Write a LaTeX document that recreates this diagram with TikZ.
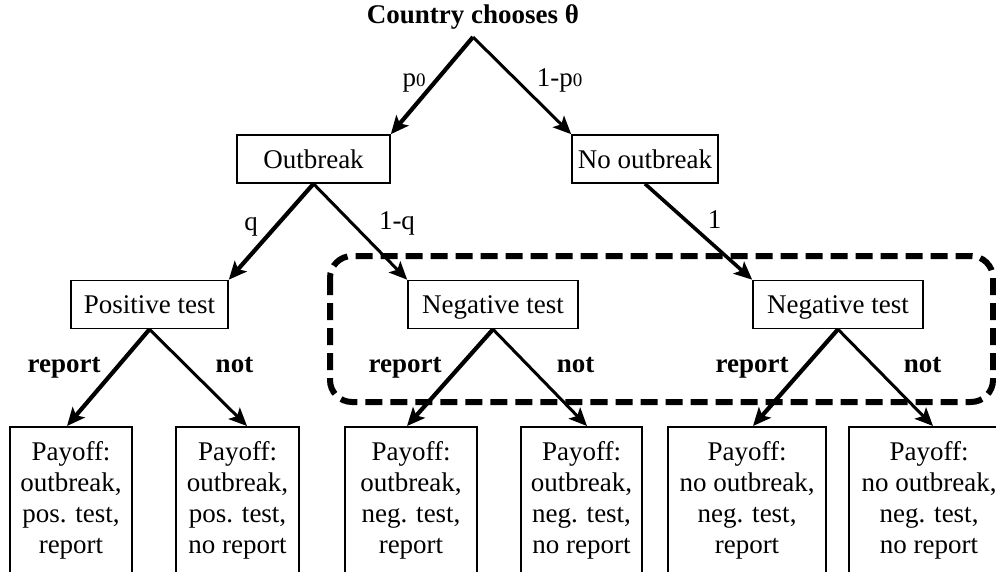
\documentclass[tikz,border=0pt]{standalone}
\usepackage{fontspec}
\setmainfont{Liberation Serif}
\usetikzlibrary{arrows.meta}
\begin{document}
\begin{tikzpicture}[x=1pt,y=-1pt,
  every node/.style={font=\fontsize{27}{31}\selectfont},
  box/.style={draw, line width=1.6pt, minimum height=48pt, text height=18pt, text depth=0pt, inner sep=0pt},
  payoff/.style={draw, line width=1.6pt, align=center, anchor=north, inner xsep=0pt, inner ysep=15pt},
  lab/.style={anchor=base, inner sep=0pt},
  blab/.style={anchor=base, inner sep=0pt, font=\fontsize{27}{31}\selectfont\bfseries},
  arrl/.style={-{Stealth[length=18pt,width=16pt,inset=4pt]}, line width=4.2pt},
  arrr/.style={-{Stealth[length=18pt,width=16pt,inset=4pt]}, line width=3pt},
  infoset/.style={line width=6pt, dash pattern=on 17pt off 8pt, rounded corners=22pt}]
\useasboundingbox (0,0) rectangle (996,571);
\clip (0,0) rectangle (996,571);

% root
\node[anchor=base, inner xsep=0pt, inner ysep=8pt, font=\fontsize{27}{31}\selectfont\bfseries] (root) at (473,23) {Country chooses θ};

% middle boxes
\node[box, minimum width=153pt] (outb) at (313.5,159) {Outbreak};
\node[box, minimum width=146pt] (noout) at (645,159) {No outbreak};
\node[box, minimum width=157pt] (pos) at (149.5,304.5) {Positive test};
\node[box, minimum width=170pt] (neg1) at (493,304.5) {Negative test};
\node[box, minimum width=170pt] (neg2) at (838,304.5) {Negative test};

% payoff boxes
\node[payoff, minimum width=122pt] (p1) at (71,426) {Payoff:\\outbreak,\\pos. test,\\report};
\node[payoff, minimum width=123pt] (p2) at (237.5,426) {Payoff:\\outbreak,\\pos. test,\\no report};
\node[payoff, minimum width=132pt] (p3) at (411,426) {Payoff:\\outbreak,\\neg. test,\\report};
\node[payoff, minimum width=121pt] (p4) at (581.5,426) {Payoff:\\outbreak,\\neg. test,\\no report};
\node[payoff, minimum width=158pt] (p5) at (747,426) {Payoff:\\no outbreak,\\neg. test,\\report};
\node[payoff, minimum width=160pt] (p6) at (929,426) {Payoff:\\no outbreak,\\neg. test,\\no report};

% information set
\draw[infoset] (330,256) rectangle (993,402);

% connectors
\draw[arrl] (root.south) -- (outb.north east);
\draw[arrr] (root.south) -- (noout.north west);
\draw[arrl] (outb.south) -- (pos.north east);
\draw[arrr] (outb.south) -- (neg1.north west);
\draw[arrl, line width=3.6pt] (noout.south) -- (neg2.north west);
\draw[arrl] (pos.south) -- ([xshift=-4pt]p1.north);
\draw[arrr] (pos.south) -- ([xshift=9.5pt]p2.north);
\draw[arrl] (neg1.south) -- ([xshift=-4pt]p3.north);
\draw[arrr] (neg1.south) -- ([xshift=5.5pt]p4.north);
\draw[arrl] (neg2.south) -- ([xshift=6pt]p5.north);
\draw[arrr] (neg2.south) -- ([xshift=4pt]p6.north);

% edge labels
\node[lab] (lp0) at (414,86) {p{\fontsize{19}{19}\selectfont 0}};
\node[lab] (l1p0) at (559.5,86) {1-p{\fontsize{19}{19}\selectfont 0}};
\node[lab] (lq) at (251,230) {q};
\node[lab] (l1q) at (397,229) {1-q};
\node[lab] (l1) at (714.5,228) {1};
\node[blab] (r1) at (64,372) {report};
\node[blab] (n1) at (234.5,372) {not};
\node[blab] (r2) at (405,372) {report};
\node[blab] (n2) at (575.5,372) {not};
\node[blab] (r3) at (752,372) {report};
\node[blab] (n3) at (922.5,372) {not};
\end{tikzpicture}
\end{document}
